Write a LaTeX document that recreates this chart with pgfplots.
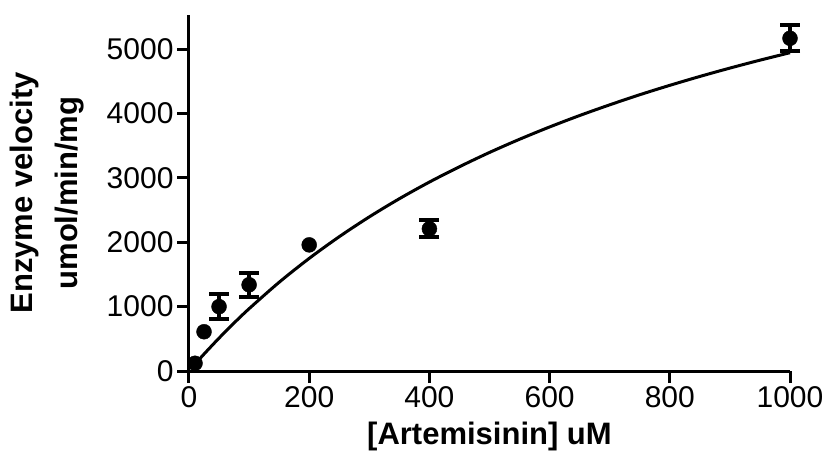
\documentclass[border=0pt]{standalone}
\usepackage{pgfplots}
\pgfplotsset{compat=1.18}
\usepackage{fontspec}
\setmainfont{Liberation Sans}
\begin{document}
\begin{tikzpicture}
\begin{axis}[
  scale only axis, width=601pt, height=356pt,
  xmin=0, xmax=1000, ymin=0, ymax=5532,
  axis x line=bottom, axis y line=left,
  x axis line style={-}, y axis line style={-},
  axis line style={line width=3pt},
  xtick={0,200,...,1000}, ytick={0,1000,...,5000},
  tick align=outside, major tick length=12pt,
  tick style={line width=3pt, black},
  ticklabel style={font=\fontsize{30}{30}\selectfont},
  /pgf/number format/assume math mode=true,
  scaled ticks=false, /pgf/number format/1000 sep={},
  xlabel={[Artemisinin] uM},
  ylabel={Enzyme velocity\\umol/min/mg},
  label style={font=\bfseries\fontsize{31}{45}\selectfont, align=center},
  xlabel style={at={(axis description cs:0.5,-0.185)}, anchor=center},
  ylabel style={at={(axis description cs:-0.236,0.5)}, anchor=center},
  clip=false,
]
\addplot[black, line width=3pt, no marks, smooth] coordinates {
(10,107) (25,263) (50,511) (75,746) (100,968) (150,1379) (200,1750)
(250,2087) (300,2395) (350,2677) (400,2936) (450,3174) (500,3396)
(550,3601) (600,3792) (650,3970) (700,4136) (750,4293) (800,4439)
(850,4577) (900,4707) (950,4830) (1000,4946)
};
\addplot[black, only marks, mark=*, mark size=7.5pt] coordinates {
(10,120) (25,610) (200,1960)
};
\addplot[black, only marks, mark=*, mark size=7.5pt,
  error bars/.cd, y dir=both, y explicit,
  error bar style={line width=4pt},
  error mark options={rotate=90, mark size=10pt, line width=4pt}]
  table[x=x, y=y, y error=e] {
x y e
50 1000 190
100 1340 190
400 2210 130
1000 5170 200
};
\end{axis}
\pgfresetboundingbox
\useasboundingbox (-189pt,-81pt) rectangle (637pt,371pt);
\end{tikzpicture}
\end{document}
